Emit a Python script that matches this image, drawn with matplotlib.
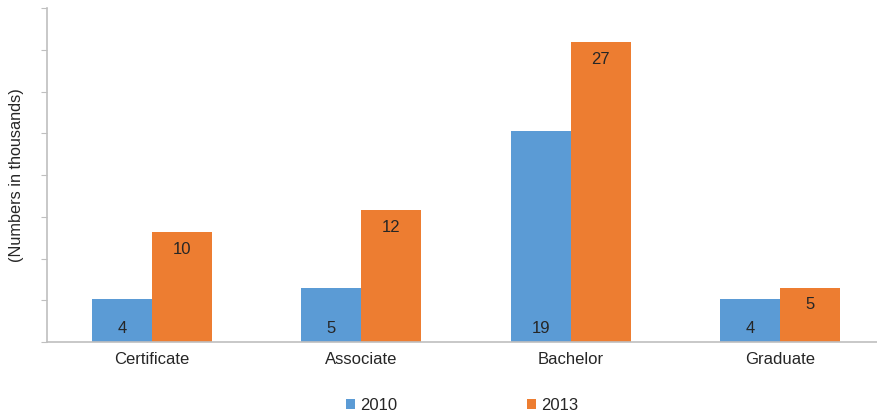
import numpy as np
import matplotlib.pyplot as plt

plt.rcParams['font.family'] = ['Liberation Sans', 'DejaVu Sans']

# Datos
categories = ['Certificate', 'Associate', 'Bachelor', 'Graduate']
values_2010 = [4.1, 5.2, 20.2, 4.1]
values_2013 = [10.5, 12.6, 28.7, 5.2]
labels_2010 = ['4', '5', '19', '4']
labels_2013 = ['10', '12', '27', '5']
series_names = ['2010', '2013']

blue = '#5B9BD5'
orange = '#ED7D31'
gray = '#BFBFBF'
text_color = '#262626'

fig = plt.figure(figsize=(8.77, 4.16), dpi=100)
ax = fig.add_axes([47 / 877, 74 / 416, 830 / 877, 334 / 416])

x = np.arange(len(categories))
w = 0.287
b1 = ax.bar(x - w / 2, values_2010, w, color=blue, label=series_names[0])
b2 = ax.bar(x + w / 2, values_2013, w, color=orange, label=series_names[1])

# Etiquetas: azules abajo, naranjas arriba dentro de la barra
for xi, lab in zip(x - w / 2, labels_2010):
    ax.annotate(lab, xy=(xi, 0), xytext=(0, 10), textcoords='offset points',
                ha='center', va='center', fontsize=12, color=text_color)
for xi, v, lab in zip(x + w / 2, values_2013, labels_2013):
    ax.annotate(lab, xy=(xi, v), xytext=(0, -12), textcoords='offset points',
                ha='center', va='center', fontsize=12, color=text_color)

ax.set_xlim(-0.502, 3.464)
ax.set_ylim(0, 32)
ax.set_yticks(np.arange(0, 33, 4))
ax.set_yticklabels([])
ax.set_xticks(x)
ax.set_xticklabels(categories, fontsize=12, color=text_color)
ax.tick_params(axis='x', length=0, pad=7)
ax.tick_params(axis='y', length=4, color=gray, direction='out')
for s in ['top', 'right']:
    ax.spines[s].set_visible(False)
for s in ['left', 'bottom']:
    ax.spines[s].set_color(gray)
    ax.spines[s].set_linewidth(1.2)

fig.text(17 / 877, 1 - 175 / 416, '(Numbers in thousands)', rotation=90,
         ha='center', va='center', fontsize=11.7, color=text_color)

fig.legend(handles=[b1, b2], loc='center', bbox_to_anchor=(462 / 877, 11 / 416),
           ncol=2, frameon=False, fontsize=12, handlelength=0.55, handleheight=0.55,
           handletextpad=0.3, columnspacing=7.8, labelcolor=text_color)

plt.savefig('out.png', dpi=100)
